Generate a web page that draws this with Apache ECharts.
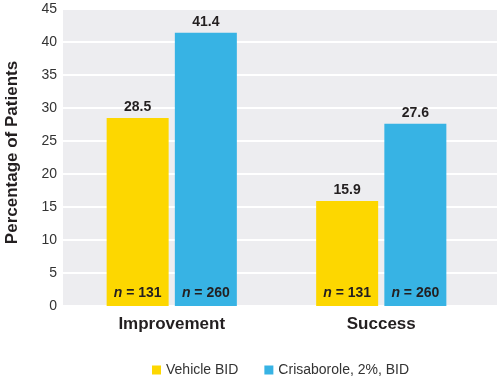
<!DOCTYPE html>
<html>
<head>
<meta charset="utf-8">
<script src="https://cdn.jsdelivr.net/npm/echarts@6/dist/echarts.min.js"></script>
<style>html,body{margin:0;padding:0;background:#fff}#c{width:500px;height:378px}</style>
</head>
<body>
<div id="c"></div>
<script>
var categories = ['Improvement', 'Success'];
var seriesNames = ['Vehicle BID', 'Crisaborole, 2%, BID'];
var vehicleValues = [28.5, 15.9];
var crisaboroleValues = [41.4, 27.6];
var vehicleN = [131, 131];
var crisaboroleN = [260, 260];
var yTicks = [0, 5, 10, 15, 20, 25, 30, 35, 40, 45];

var FONT = 'Liberation Sans, Arial, Helvetica, sans-serif';
var YELLOW = '#FDD700';
var BLUE = '#37B3E4';
var TXT = '#231f20';

var chart = echarts.init(document.getElementById('c'));

function nLabel(arr) {
  return {
    show: true,
    position: 'insideBottom',
    distance: 6,
    formatter: function (p) { return '{i|n} = ' + arr[p.dataIndex]; },
    color: TXT,
    fontFamily: FONT,
    fontWeight: 'bold',
    fontSize: 14,
    rich: { i: { fontStyle: 'italic', fontWeight: 'bold', fontSize: 14, color: TXT, fontFamily: FONT } }
  };
}
var topLabel = {
  show: true, position: 'top', distance: 4,
  color: TXT, fontFamily: FONT, fontWeight: 'bold', fontSize: 14,
  formatter: function (p) { return p.value.toFixed(1); }
};

var yMin = yTicks[0], yMax = yTicks[yTicks.length - 1], yInt = yTicks[1] - yTicks[0];

chart.setOption({
  animation: false,
  textStyle: { fontFamily: FONT },
  grid: [
    { left: 63, right: 3, top: 9, bottom: 72, show: true, backgroundColor: '#EDEDF0', borderWidth: 0, outerBoundsMode: 'none', containLabel: false },
    { left: 67, right: 14, top: 9, bottom: 72, outerBoundsMode: 'none', containLabel: false },
    { left: 67, right: 14, top: 9, bottom: 72, outerBoundsMode: 'none', containLabel: false }
  ],
  xAxis: [
    { gridIndex: 0, type: 'category', data: [''], show: false },
    { gridIndex: 1, type: 'category', data: categories,
      axisLine: { show: false }, axisTick: { show: false },
      axisLabel: { margin: 10, color: TXT, fontFamily: FONT, fontWeight: 'bold', fontSize: 17 } },
    { gridIndex: 2, type: 'category', data: categories, show: false }
  ],
  yAxis: [
    { gridIndex: 0, type: 'value', min: yMin, max: yMax, interval: yInt,
      axisLine: { show: false }, axisTick: { show: false },
      splitLine: { show: true, lineStyle: { color: '#ffffff', width: 2 } },
      axisLabel: { margin: 6, color: '#333', fontFamily: FONT, fontSize: 14 },
      name: 'Percentage of Patients', nameLocation: 'middle', nameGap: 32, nameRotate: 90,
      nameTextStyle: { color: TXT, fontFamily: FONT, fontWeight: 'bold', fontSize: 17, padding: [0, 0, 10, 10] } },
    { gridIndex: 1, type: 'value', min: yMin, max: yMax, interval: yInt, show: false, splitLine: { show: false } },
    { gridIndex: 2, type: 'value', min: yMin, max: yMax, interval: yInt, show: false, splitLine: { show: false } }
  ],
  legend: {
    data: seriesNames,
    left: 147, top: 358,
    icon: 'rect', itemWidth: 9, itemHeight: 9, itemGap: 26,
    textStyle: { color: '#333', fontFamily: FONT, fontSize: 14 }
  },
  series: [
    { name: seriesNames[0], type: 'bar', xAxisIndex: 1, yAxisIndex: 1, data: vehicleValues,
      barWidth: 62, barGap: '10%', itemStyle: { color: YELLOW }, label: topLabel },
    { name: seriesNames[1], type: 'bar', xAxisIndex: 1, yAxisIndex: 1, data: crisaboroleValues,
      barWidth: 62, barGap: '10%', itemStyle: { color: BLUE }, label: topLabel },
    { name: 'nv', type: 'bar', xAxisIndex: 2, yAxisIndex: 2, data: vehicleValues,
      barWidth: 62, barGap: '10%', itemStyle: { color: 'rgba(0,0,0,0)' }, label: nLabel(vehicleN), silent: true },
    { name: 'nc', type: 'bar', xAxisIndex: 2, yAxisIndex: 2, data: crisaboroleValues,
      barWidth: 62, barGap: '10%', itemStyle: { color: 'rgba(0,0,0,0)' }, label: nLabel(crisaboroleN), silent: true }
  ]
});
</script>
</body>
</html>
